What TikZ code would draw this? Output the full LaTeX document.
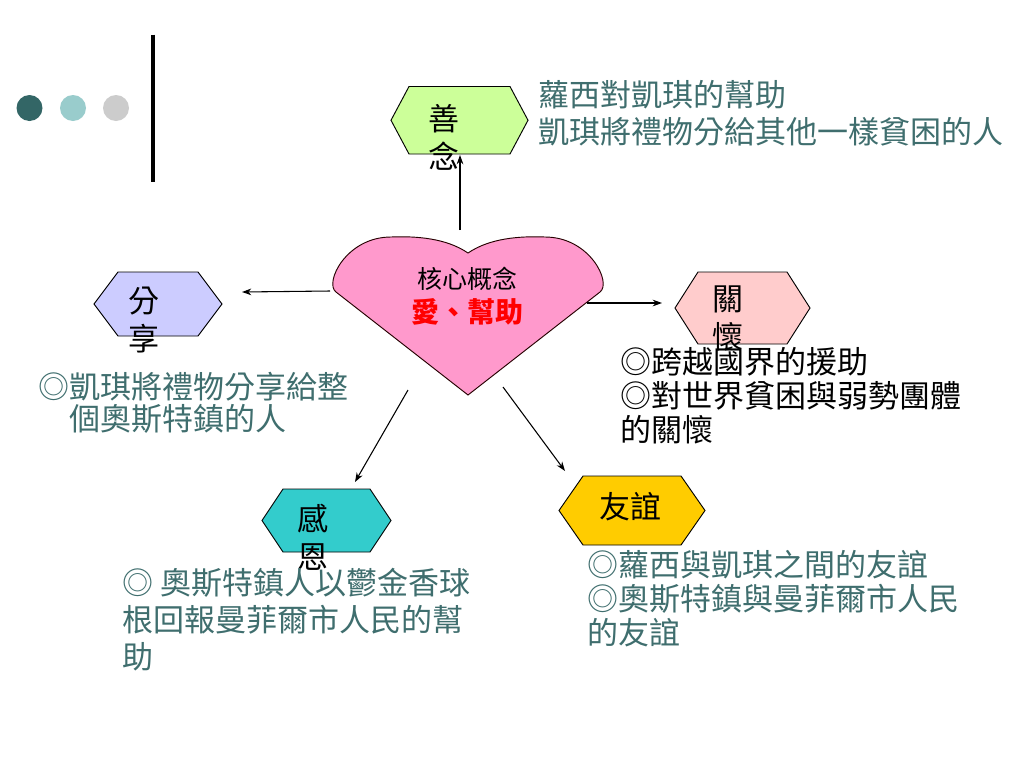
\documentclass[tikz,border=0pt]{standalone}
\usepackage{fontspec}
\setmainfont{Noto Sans CJK TC}
\usetikzlibrary{arrows.meta}
\definecolor{capcol}{HTML}{3F6E6E}
\definecolor{dotA}{HTML}{336666}
\definecolor{dotB}{HTML}{99CCCC}
\definecolor{dotC}{HTML}{CCCCCC}
\definecolor{heartfill}{HTML}{FF99CC}
\definecolor{hexgreen}{HTML}{CCFF99}
\definecolor{hexlav}{HTML}{CCCCFF}
\definecolor{hexpink}{HTML}{FFCCCC}
\definecolor{hexteal}{HTML}{33CCCC}
\definecolor{hexgold}{HTML}{FFCC00}
\begin{document}
\begin{tikzpicture}[x=0.75pt,y=-0.75pt,
  hexa/.style={draw=black, line width=0.7pt},
  lbl/.style={inner sep=0pt, align=center, font=\fontsize{23.25pt}{28.5pt}\selectfont},
  captxt/.style={inner sep=0pt, anchor=west, align=left, text=capcol},
  conn/.style={draw=black, line width=0.8pt, -{Stealth[length=7pt,width=5pt]}}]

\path[use as bounding box, fill=white] (0,0) rectangle (1024,768);

% decoration
\fill[dotA] (29.5,108) circle[radius=9.75pt];
\fill[dotB] (73,108) circle[radius=9.75pt];
\fill[dotC] (116,108) circle[radius=9.75pt];
\draw[line width=2.8pt] (153,34.5) -- (153,182);

% heart
\draw[fill=heartfill, line width=0.7pt, draw=black!85!red]
  (468,395) -- (336,292) .. controls (324,283) and (346,237) .. (391,237)
  .. controls (416,236) and (446,238) .. (468,253)
  .. controls (490,238) and (520,236) .. (545,237)
  .. controls (590,237) and (612,283) .. (600,292) -- cycle;
\node[inner sep=0pt, font=\fontsize{18.75pt}{22pt}\selectfont] (htitle) at (467,279) {核心概念};
\node[inner sep=0pt, text=red, font=\fontsize{21pt}{24pt}\selectfont\bfseries] (hsub) at (467,312) {愛、幫助};

% hexagons
\draw[hexa, fill=hexgreen] (391,120.25) -- (409,86.5) -- (510,86.5) -- (528,120.25) -- (510,154) -- (409,154) -- cycle;
\draw[hexa, fill=hexlav] (94,304) -- (118,272) -- (198,272) -- (222,304) -- (198,336) -- (118,336) -- cycle;
\draw[hexa, fill=hexpink] (675,308) -- (698,272) -- (787,272) -- (810,308) -- (787,344) -- (698,344) -- cycle;
\draw[hexa, fill=hexteal] (262,520.5) -- (283,489) -- (370,489) -- (391,520.5) -- (370,552) -- (283,552) -- cycle;
\draw[hexa, fill=hexgold] (559,510.5) -- (583,476) -- (681,476) -- (705,510.5) -- (681,545) -- (583,545) -- cycle;

% hexagon labels
\node[lbl] (shan) at (444,137) {善\\念};
\node[lbl] (fen) at (143.5,320) {分\\享};
\node[lbl] (guan) at (728,318) {關\\懷};
\node[lbl] (gan) at (313,537.5) {感\\恩};
\node[lbl] (you) at (630,507) {友誼};

% captions
\node[captxt, font=\fontsize{23.25pt}{27.75pt}\selectfont] (capshan) at (538,113.5)
  {蘿西對凱琪的幫助\\凱琪將禮物分給其他一樣貧困的人};
\node[captxt, font=\fontsize{23.25pt}{24pt}\selectfont] (capfen) at (38,403)
  {◎凱琪將禮物分享給整\\\hspace*{1em}個奧斯特鎮的人};
\node[captxt, text=black, font=\fontsize{23.25pt}{25.5pt}\selectfont] (capguan) at (620,396)
  {◎跨越國界的援助\\◎對世界貧困與弱勢團體\\的關懷};
\node[captxt, font=\fontsize{23.25pt}{25.5pt}\selectfont] (capyou) at (587,599)
  {◎蘿西與凱琪之間的友誼\\◎奧斯特鎮與曼菲爾市人民\\的友誼};
\node[captxt, font=\fontsize{23.25pt}{27.75pt}\selectfont] (capgan) at (122,620)
  {◎ 奧斯特鎮人以鬱金香球\\根回報曼菲爾市人民的幫\\助};

% connector end points
\coordinate (aS1) at (460,230);
\coordinate (aS2) at (460,155);
\coordinate (aF1) at (330,291);
\coordinate (aF2) at (242,292);
\coordinate (aG1) at (587,303);
\coordinate (aG2) at (662,303);
\coordinate (aY1) at (503,387);
\coordinate (aY2) at (565,471);
\coordinate (aE1) at (408,390);
\coordinate (aE2) at (355,482);

\draw[conn] (aS1) -- (aS2);
\draw[conn] (aF1) -- (aF2);
\draw[conn] (aG1) -- (aG2);
\draw[conn] (aY1) -- (aY2);
\draw[conn] (aE1) -- (aE2);
\end{tikzpicture}
\end{document}
